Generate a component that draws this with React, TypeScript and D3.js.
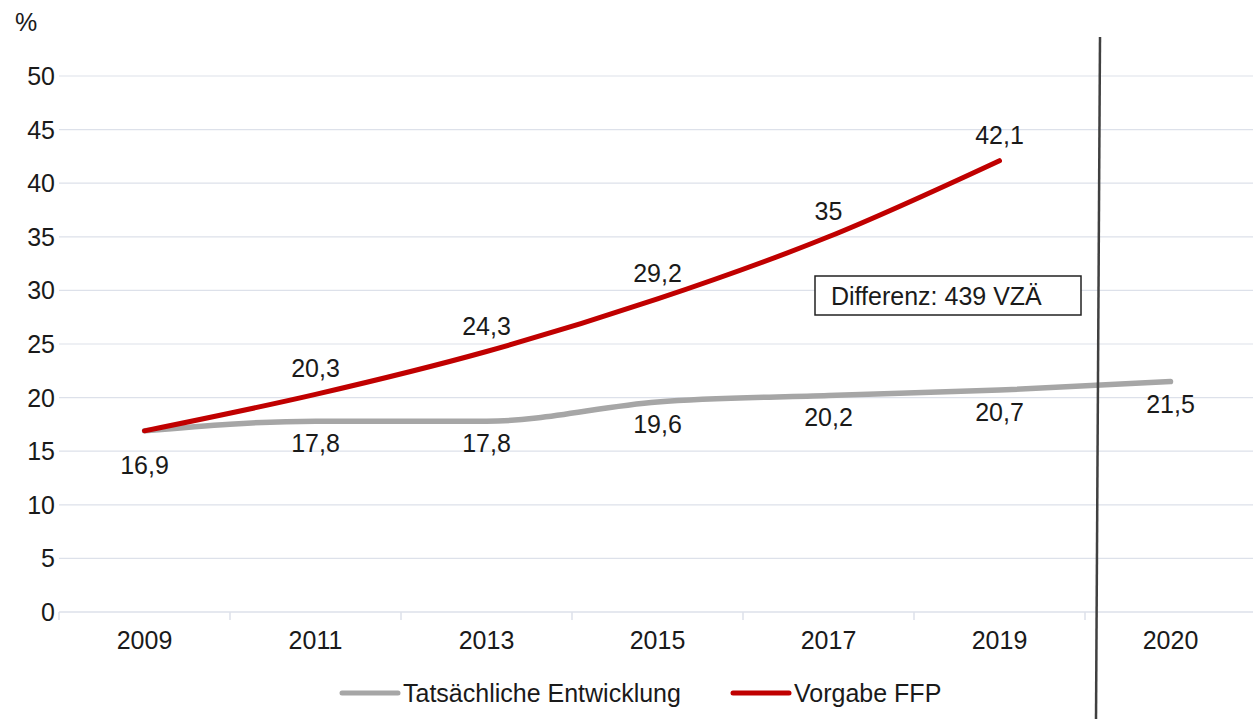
import React, { useEffect, useRef } from "react";
import * as d3 from "d3";

const years = ["2009", "2011", "2013", "2015", "2017", "2019", "2020"];
const actual = [16.9, 17.8, 17.8, 19.6, 20.2, 20.7, 21.5];
const target = [16.9, 20.3, 24.3, 29.2, 35, 42.1];
const yTicks = [0, 5, 10, 15, 20, 25, 30, 35, 40, 45, 50];
const seriesNames = ["Tatsächliche Entwicklung", "Vorgabe FFP"];
const note = "Differenz: 439 VZÄ";

const W = 1253;
const H = 719;
const FONT = "'Liberation Sans', Arial, sans-serif";
const GREY = "#a6a6a6";
const RED = "#c00000";
const GRID = "#dde1ea";

const fmt = (v: number) => String(v).replace(".", ",");

const App = () => {
  const ref = useRef<SVGSVGElement>(null);

  useEffect(() => {
    const svg = d3.select(ref.current);
    svg.selectAll("*").remove();

    const x = d3.scaleBand().domain(years).range([59, 59 + 171 * 7]);
    const y = d3.scaleLinear().domain([0, 50]).range([612, 76]);
    const cx = (d: string) => (x(d) as number) + x.bandwidth() / 2;

    // gridlines
    svg
      .append("g")
      .selectAll("line")
      .data(yTicks.filter((t) => t > 0))
      .join("line")
      .attr("x1", 59)
      .attr("x2", W)
      .attr("y1", (d) => y(d))
      .attr("y2", (d) => y(d))
      .attr("stroke", GRID)
      .attr("stroke-width", 1.2);

    // y labels
    svg
      .append("g")
      .selectAll("text")
      .data(yTicks)
      .join("text")
      .attr("x", 55)
      .attr("y", (d) => y(d))
      .attr("dy", "0.36em")
      .attr("text-anchor", "end")
      .text((d) => d);

    svg.append("text").attr("x", 15).attr("y", 31).text("%");

    // x axis
    const ax = svg.append("g");
    ax.append("line")
      .attr("x1", 59)
      .attr("x2", W)
      .attr("y1", y(0))
      .attr("y2", y(0))
      .attr("stroke", GRID)
      .attr("stroke-width", 1.5);
    ax.selectAll("line.tick")
      .data(years)
      .join("line")
      .attr("class", "tick")
      .attr("x1", (d) => x(d) as number)
      .attr("x2", (d) => x(d) as number)
      .attr("y1", y(0))
      .attr("y2", y(0) + 8)
      .attr("stroke", GRID)
      .attr("stroke-width", 1.5);
    ax.selectAll("text")
      .data(years)
      .join("text")
      .attr("x", (d) => cx(d))
      .attr("y", 649)
      .attr("text-anchor", "middle")
      .text((d) => d);

    const line = d3
      .line<number>()
      .x((_, i) => cx(years[i]))
      .y((d) => y(d))
      .curve(d3.curveMonotoneX);

    svg.append("path")
      .datum(actual)
      .attr("d", line)
      .attr("fill", "none")
      .attr("stroke", GREY)
      .attr("stroke-width", 5.5)
      .attr("stroke-linecap", "round");

    svg.append("path")
      .datum(target)
      .attr("d", line)
      .attr("fill", "none")
      .attr("stroke", RED)
      .attr("stroke-width", 5)
      .attr("stroke-linecap", "round");

    // labels
    svg.append("g")
      .selectAll("text")
      .data(actual)
      .join("text")
      .attr("x", (_, i) => cx(years[i]))
      .attr("y", (d, i) => y(d) + (i === 0 ? 34 : 22))
      .attr("dy", "0.36em")
      .attr("text-anchor", "middle")
      .text((d) => fmt(d));

    svg.append("g")
      .selectAll("text")
      .data(target.slice(1))
      .join("text")
      .attr("x", (_, i) => cx(years[i + 1]))
      .attr("y", (d) => y(d) - 26)
      .attr("dy", "0.36em")
      .attr("text-anchor", "middle")
      .text((d) => fmt(d));

    // divider
    svg.append("line")
      .attr("x1", 1100)
      .attr("y1", 37)
      .attr("x2", 1096)
      .attr("y2", H)
      .attr("stroke", "#404040")
      .attr("stroke-width", 2.5);

    // note box
    svg.append("rect")
      .attr("x", 815)
      .attr("y", 276)
      .attr("width", 266)
      .attr("height", 39)
      .attr("fill", "#fff")
      .attr("stroke", "#222")
      .attr("stroke-width", 1.5);
    svg.append("text")
      .attr("x", 831)
      .attr("y", 296)
      .attr("dy", "0.36em")
      .text(note);

    // legend
    const leg = svg.append("g");
    const items = [
      { name: seriesNames[0], color: GREY, x: 340 },
      { name: seriesNames[1], color: RED, x: 731 },
    ];
    items.forEach((it) => {
      leg.append("line")
        .attr("x1", it.x + 2)
        .attr("x2", it.x + 58)
        .attr("y1", 693)
        .attr("y2", 693)
        .attr("stroke", it.color)
        .attr("stroke-width", 5)
        .attr("stroke-linecap", "round");
      leg.append("text")
        .attr("x", it.x + 63)
        .attr("y", 693)
        .attr("dy", "0.36em")
        .text(it.name);
    });
  }, []);

  return (
    <div style={{ position: "absolute", left: 0, top: 0 }}>
      <svg
        ref={ref}
        width={W}
        height={H}
        style={{ display: "block", background: "#fff", fontFamily: FONT, fontSize: 25, fill: "#1a1a1a" }}
      />
    </div>
  );
};

export default App;
